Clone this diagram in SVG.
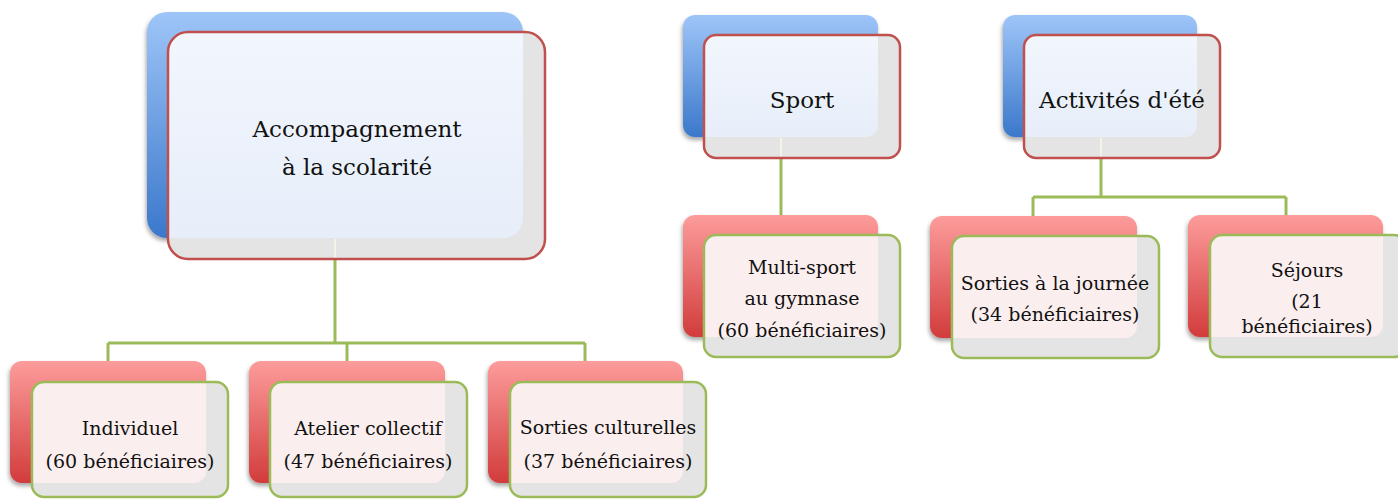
<svg xmlns="http://www.w3.org/2000/svg" width="1398" height="499" viewBox="0 0 1398 499">
<defs>
<linearGradient id="gBlue" x1="0" y1="0" x2="0" y2="1">
<stop offset="0" stop-color="#9ec5f8"/>
<stop offset="1" stop-color="#3b78cb"/>
</linearGradient>
<linearGradient id="gRed" x1="0" y1="0" x2="0" y2="1">
<stop offset="0" stop-color="#fc9c9b"/>
<stop offset="1" stop-color="#d23c3c"/>
</linearGradient>
<linearGradient id="gLightBlue" x1="0" y1="0" x2="0" y2="1">
<stop offset="0" stop-color="#f2f6fd"/>
<stop offset="1" stop-color="#e7eef9"/>
</linearGradient>
<filter id="shadow" x="-10%" y="-10%" width="120%" height="130%">
<feDropShadow dx="-1" dy="3" stdDeviation="2" flood-color="#000" flood-opacity="0.35"/>
</filter>
</defs>
<style>
.backB{fill:url(#gBlue);filter:url(#shadow);}
.backR{fill:url(#gRed);filter:url(#shadow);}
.front{fill:#e4e4e4;}
.ovB{fill:url(#gLightBlue);}
.ovR{fill:#fbeeee;}
.bordR{fill:none;stroke:#c0504d;stroke-width:2.5;}
.bordG{fill:none;stroke:#9bbb59;stroke-width:2.5;}
.conn{fill:none;stroke:#9bbb59;stroke-width:3;}
.ghost{fill:none;stroke:#f3f3e8;stroke-width:2;}
.t1{font-family:"DejaVu Serif","Liberation Serif",serif;font-size:23px;fill:#111;text-anchor:middle;}
.t2{font-family:"DejaVu Serif","Liberation Serif",serif;font-size:19px;fill:#111;text-anchor:middle;}
</style>
<rect width="1398" height="499" fill="#fff"/>

<g id="connectors">
<path class="conn" d="M335,259 V343 M108,343 H585 M108,343 V361 M347,343 V361 M585,343 V361"/>
<path class="conn" d="M781,158 V215"/>
<path class="conn" d="M1101,158 V197 M1033,197 H1286 M1033,197 V216 M1286,197 V215"/>
</g>

<g id="node-accompagnement">
<rect class="backB" x="147" y="12" width="376" height="226" rx="20"/>
<rect class="front" x="168" y="32" width="377" height="227" rx="20"/>
<path class="ovB" d="M168,52 A20,20 0 0 1 188,32 L523,32 L523,218 A20,20 0 0 1 503,238 L168,238 Z"/>
<path class="ghost" d="M335,239 V258"/>
<rect class="bordR" x="168" y="32" width="377" height="227" rx="20"/>
<text class="t1" x="357" y="137">Accompagnement</text>
<text class="t1" x="357" y="175">à la scolarité</text>
</g>

<g id="node-sport">
<rect class="backB" x="683" y="15" width="195" height="122" rx="12"/>
<rect class="front" x="704" y="35" width="196" height="123" rx="12"/>
<path class="ovB" d="M704,47 A12,12 0 0 1 716,35 L878,35 L878,125 A12,12 0 0 1 866,137 L704,137 Z"/>
<path class="ghost" d="M781,138 V157"/>
<rect class="bordR" x="704" y="35" width="196" height="123" rx="12"/>
<text class="t1" x="802" y="108">Sport</text>
</g>

<g id="node-activites">
<rect class="backB" x="1003" y="15" width="194" height="122" rx="12"/>
<rect class="front" x="1024" y="35" width="196" height="123" rx="12"/>
<path class="ovB" d="M1024,47 A12,12 0 0 1 1036,35 L1197,35 L1197,125 A12,12 0 0 1 1185,137 L1024,137 Z"/>
<path class="ghost" d="M1101,138 V157"/>
<rect class="bordR" x="1024" y="35" width="196" height="123" rx="12"/>
<text class="t1" x="1122" y="108">Activités d'été</text>
</g>

<g id="node-multisport">
<rect class="backR" x="683" y="215" width="195" height="122" rx="12"/>
<rect class="front" x="704" y="235" width="196" height="122" rx="12"/>
<path class="ovR" d="M704,247 A12,12 0 0 1 716,235 L878,235 L878,325 A12,12 0 0 1 866,337 L704,337 Z"/>
<rect class="bordG" x="704" y="235" width="196" height="122" rx="12"/>
<text class="t2" x="802" y="274">Multi-sport</text>
<text class="t2" x="802" y="305">au gymnase</text>
<text class="t2" x="802" y="337">(60 bénéficiaires)</text>
</g>

<g id="node-sorties-journee">
<rect class="backR" x="930" y="216" width="207" height="122" rx="12"/>
<rect class="front" x="952" y="236" width="207" height="122" rx="12"/>
<path class="ovR" d="M952,248 A12,12 0 0 1 964,236 L1137,236 L1137,326 A12,12 0 0 1 1125,338 L952,338 Z"/>
<rect class="bordG" x="952" y="236" width="207" height="122" rx="12"/>
<text class="t2" x="1055" y="290">Sorties à la journée</text>
<text class="t2" x="1055" y="321">(34 bénéficiaires)</text>
</g>

<g id="node-sejours">
<rect class="backR" x="1188" y="215" width="195" height="122" rx="12"/>
<rect class="front" x="1210" y="235" width="196" height="122" rx="12"/>
<path class="ovR" d="M1210,247 A12,12 0 0 1 1222,235 L1383,235 L1383,325 A12,12 0 0 1 1371,337 L1210,337 Z"/>
<rect class="bordG" x="1210" y="235" width="196" height="122" rx="12"/>
<text class="t2" x="1307" y="277">Séjours</text>
<text class="t2" x="1307" y="308">(21</text>
<text class="t2" x="1307" y="333">bénéficiaires)</text>
</g>

<g id="node-individuel">
<rect class="backR" x="10" y="361" width="196" height="122" rx="12"/>
<rect class="front" x="32" y="382" width="196" height="115" rx="12"/>
<path class="ovR" d="M32,394 A12,12 0 0 1 44,382 L206,382 L206,471 A12,12 0 0 1 194,483 L32,483 Z"/>
<rect class="bordG" x="32" y="382" width="196" height="115" rx="12"/>
<text class="t2" x="130" y="435">Individuel</text>
<text class="t2" x="130" y="468">(60 bénéficiaires)</text>
</g>

<g id="node-atelier">
<rect class="backR" x="249" y="361" width="196" height="122" rx="12"/>
<rect class="front" x="270" y="382" width="197" height="115" rx="12"/>
<path class="ovR" d="M270,394 A12,12 0 0 1 282,382 L445,382 L445,471 A12,12 0 0 1 433,483 L270,483 Z"/>
<rect class="bordG" x="270" y="382" width="197" height="115" rx="12"/>
<text class="t2" x="368" y="435">Atelier collectif</text>
<text class="t2" x="368" y="468">(47 bénéficiaires)</text>
</g>

<g id="node-sorties-culturelles">
<rect class="backR" x="488" y="361" width="195" height="122" rx="12"/>
<rect class="front" x="510" y="382" width="196" height="115" rx="12"/>
<path class="ovR" d="M510,394 A12,12 0 0 1 522,382 L683,382 L683,471 A12,12 0 0 1 671,483 L510,483 Z"/>
<rect class="bordG" x="510" y="382" width="196" height="115" rx="12"/>
<text class="t2" x="608" y="434">Sorties culturelles</text>
<text class="t2" x="608" y="468">(37 bénéficiaires)</text>
</g>
</svg>
